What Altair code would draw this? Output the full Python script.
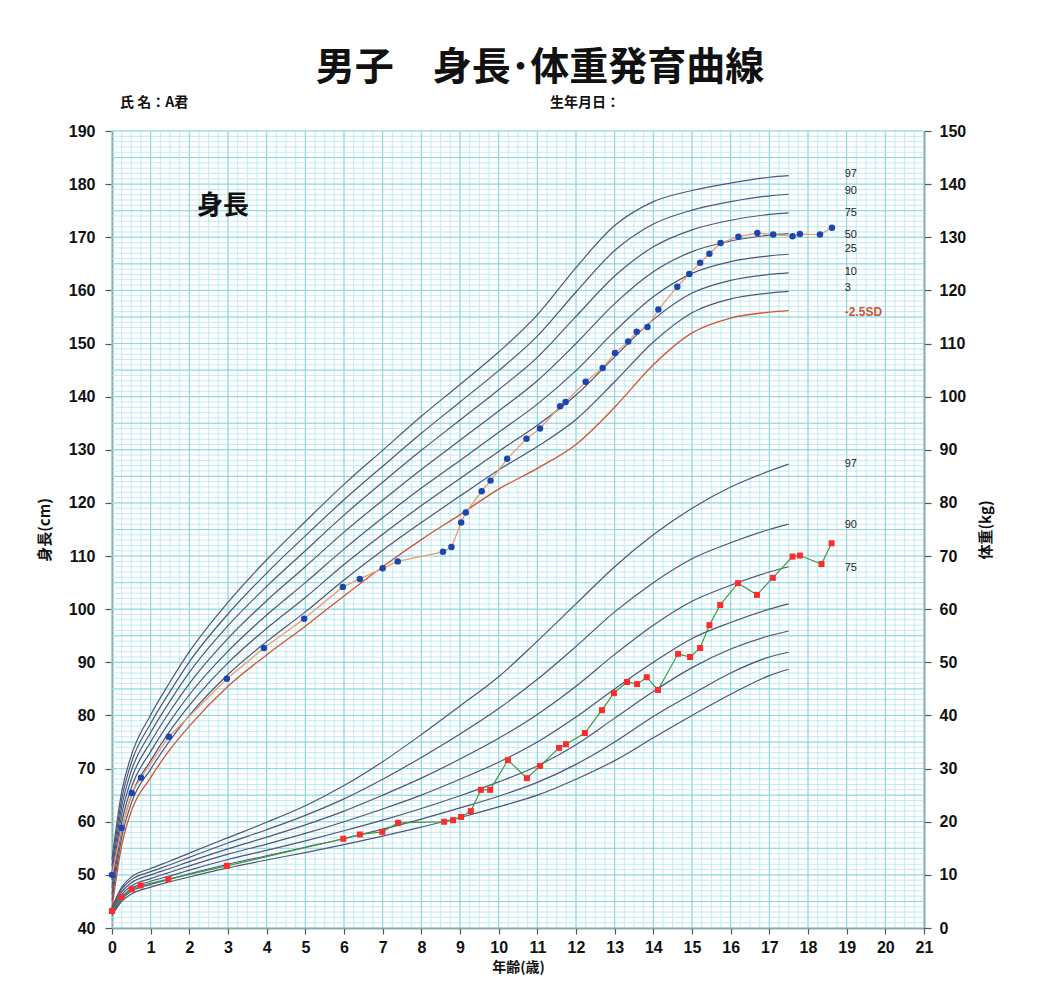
import altair as alt
import pandas as pd
import numpy as np

# ---------------- data ----------------
ages = [0, 0.25, 0.5, 1, 1.5, 2, 3, 4, 5, 6, 7, 8, 9, 10, 11, 12, 13, 14, 15, 16, 17, 17.5]

# height reference curves (cm)
h_sd_m25 = [43.8, 55.5, 62.0, 68.3, 73.6, 78.0, 85.5, 91.4, 96.8, 102.5, 108.0, 113.1, 117.8, 122.6, 126.5, 131.0, 138.0, 146.0, 152.0, 154.8, 155.9, 156.2]
h_p3 = [45.1, 57.0, 63.5, 69.9, 75.3, 80.0, 87.7, 93.9, 99.5, 105.5, 111.1, 116.3, 121.3, 126.2, 130.6, 135.7, 142.8, 150.3, 155.8, 158.4, 159.5, 159.8]
h_p10 = [46.3, 58.4, 64.9, 71.5, 77.1, 81.9, 89.9, 96.4, 102.2, 108.4, 114.1, 119.5, 124.6, 129.7, 134.6, 140.3, 147.5, 154.5, 159.5, 161.9, 163.0, 163.3]
h_p25 = [47.6, 59.8, 66.4, 73.2, 78.9, 83.9, 92.1, 98.9, 105.0, 111.3, 117.2, 122.8, 128.0, 133.3, 138.6, 144.9, 152.3, 158.8, 163.2, 165.4, 166.5, 166.8]
h_p50 = [49.0, 61.3, 68.0, 75.0, 80.8, 86.0, 94.5, 101.6, 108.0, 114.5, 120.5, 126.3, 131.8, 137.3, 143.0, 150.0, 157.5, 163.5, 167.3, 169.3, 170.4, 170.7]
h_p75 = [50.4, 62.8, 69.6, 76.8, 82.7, 88.1, 96.9, 104.3, 111.0, 117.7, 123.9, 129.9, 135.6, 141.3, 147.4, 155.1, 162.7, 168.2, 171.4, 173.2, 174.3, 174.6]
h_p90 = [51.7, 64.2, 71.1, 78.5, 84.5, 90.1, 99.1, 106.8, 113.8, 120.6, 126.9, 133.1, 139.0, 144.9, 151.4, 159.7, 167.5, 172.5, 175.1, 176.7, 177.8, 178.1]
h_p97 = [52.9, 65.6, 72.5, 80.1, 86.3, 92.0, 101.3, 109.3, 116.5, 123.5, 129.9, 136.3, 142.3, 148.4, 155.4, 164.3, 172.2, 176.7, 178.8, 180.2, 181.3, 181.6]

# weight reference curves (kg)
w_p3 = [2.3, 5.0, 6.4, 7.7, 8.7, 9.6, 11.3, 12.8, 14.2, 15.7, 17.3, 19.0, 20.8, 22.8, 25.0, 28.0, 31.5, 35.8, 40.0, 44.0, 47.5, 48.7]
w_p10 = [2.6, 5.4, 6.9, 8.2, 9.2, 10.2, 12.0, 13.6, 15.2, 16.8, 18.6, 20.5, 22.6, 24.8, 27.4, 30.8, 35.0, 39.8, 44.0, 48.0, 51.0, 51.9]
w_p25 = [2.8, 5.8, 7.4, 8.8, 9.8, 10.9, 12.9, 14.6, 16.4, 18.3, 20.3, 22.5, 24.9, 27.5, 30.5, 34.5, 39.5, 44.5, 49.0, 52.5, 55.0, 55.9]
w_p50 = [3.0, 6.3, 7.9, 9.3, 10.5, 11.7, 13.9, 15.8, 17.8, 20.0, 22.4, 25.0, 28.0, 31.2, 35.0, 39.7, 45.0, 50.0, 54.5, 57.5, 60.0, 61.0]
w_p75 = [3.3, 6.8, 8.5, 10.0, 11.2, 12.5, 14.9, 17.1, 19.4, 22.0, 25.0, 28.2, 31.8, 35.7, 40.2, 45.5, 51.5, 57.0, 61.5, 64.5, 67.0, 68.0]
w_p90 = [3.6, 7.3, 9.1, 10.6, 11.9, 13.3, 16.0, 18.5, 21.2, 24.3, 28.0, 32.1, 36.5, 41.3, 46.8, 53.0, 59.5, 65.0, 69.5, 72.5, 75.0, 76.0]
w_p97 = [3.8, 7.7, 9.6, 11.2, 12.6, 14.1, 17.0, 19.9, 23.0, 26.8, 31.3, 36.4, 41.8, 47.3, 54.0, 61.0, 68.0, 74.0, 79.0, 83.0, 86.0, 87.3]

# A君 measurements
a_h_age = [0, 0.25, 0.51, 0.75, 1.47, 2.97, 3.93, 4.97, 5.97, 6.41, 7.0, 7.39, 8.56, 8.78, 9.03, 9.15,
           9.56, 9.79, 10.22, 10.72, 11.07, 11.59, 11.73, 12.25, 12.69, 13.01, 13.35, 13.57, 13.85,
           14.13, 14.62, 14.93, 15.21, 15.45, 15.74, 16.2, 16.69, 17.1, 17.6, 17.79, 18.31, 18.62]
a_h = [50.0, 58.8, 65.4, 68.3, 76.0, 86.9, 92.7, 98.2, 104.2, 105.7, 107.7, 109.0, 110.8, 111.7, 116.3, 118.2,
       122.2, 124.2, 128.3, 132.1, 134.0, 138.2, 139.0, 142.8, 145.4, 148.2, 150.4, 152.2, 153.1,
       156.4, 160.7, 163.1, 165.2, 166.9, 168.9, 170.1, 170.8, 170.5, 170.2, 170.6, 170.5, 171.8]

a_w_age = [0, 0.25, 0.51, 0.74, 1.46, 2.97, 5.98, 6.41, 6.99, 7.4, 8.59, 8.82, 9.03, 9.28, 9.54, 9.78,
           10.24, 10.73, 11.07, 11.56, 11.74, 12.23, 12.67, 12.98, 13.32, 13.58, 13.83, 14.12, 14.64,
           14.95, 15.21, 15.45, 15.73, 16.19, 16.68, 17.09, 17.6, 17.79, 18.35, 18.61]
a_w = [3.2, 5.8, 7.3, 8.0, 9.2, 11.7, 16.8, 17.6, 18.1, 19.8, 20.0, 20.3, 20.9, 22.0, 26.0, 26.0,
       31.6, 28.2, 30.5, 33.9, 34.6, 36.7, 41.0, 44.2, 46.3, 45.9, 47.2, 44.8, 51.6,
       51.0, 52.7, 57.0, 60.8, 64.9, 62.7, 65.9, 69.9, 70.1, 68.5, 72.4]

# curve labels
h_label_text = ["97", "90", "75", "50", "25", "10", "3"]
h_label_val = [182.0, 178.7, 174.5, 170.5, 167.7, 163.4, 160.5]
sd_label_text = ["-2.5SD"]
sd_label_val = [155.9]
w_label_text = ["97", "90", "75"]
w_label_val = [87.4, 75.9, 67.7]
label_age = 18.95

panel_text = ["身長"]
panel_age = [2.2]
panel_h = [175.8]

title_text = "男子　身長･体重発育曲線"
name_text = "氏 名：A君"
birth_text = "生年月日："

# ---------------- helpers ----------------
JP = "Noto Sans CJK JP"
NUM = "Liberation Sans"
W, H = 812, 797


def long(names, arrays):
    rows = []
    for n, arr in zip(names, arrays):
        for a, v in zip(ages, arr):
            rows.append({"age": a, "v": v, "curve": n})
    return pd.DataFrame(rows)


hdf = long(["p3", "p10", "p25", "p50", "p75", "p90", "p97"], [h_p3, h_p10, h_p25, h_p50, h_p75, h_p90, h_p97])
sddf = long(["m25"], [h_sd_m25])
wdf = long(["p3", "p10", "p25", "p50", "p75", "p90", "p97"], [w_p3, w_p10, w_p25, w_p50, w_p75, w_p90, w_p97])
ahdf = pd.DataFrame({"age": a_h_age, "v": a_h})
awdf = pd.DataFrame({"age": a_w_age, "v": a_w})
hlab = pd.DataFrame({"age": [label_age] * len(h_label_text), "v": h_label_val, "t": h_label_text})
sdlab = pd.DataFrame({"age": [label_age], "v": sd_label_val, "t": sd_label_text})
wlab = pd.DataFrame({"age": [label_age] * len(w_label_text), "v": w_label_val, "t": w_label_text})
plab = pd.DataFrame({"age": panel_age, "v": panel_h, "t": panel_text})

gx_minor = pd.DataFrame({"age": [round(v, 2) for v in np.arange(0, 21.001, 0.25)]})
gx_major = pd.DataFrame({"age": list(range(0, 22))})
gy_minor = pd.DataFrame({"v": list(range(40, 191))})
gy_major = pd.DataFrame({"v": list(range(40, 191, 5))})

xs = alt.Scale(domain=[0, 21], nice=False, zero=False)
yhs = alt.Scale(domain=[40, 190], nice=False, zero=False)
yws = alt.Scale(domain=[0, 150], nice=False, zero=False)

x_axis = alt.Axis(values=list(range(0, 22)), format="d", grid=False, domainColor="#555555", domainWidth=1.5,
                  tickColor="#555555", tickSize=6, tickWidth=1.2, labelFont=NUM, labelFontSize=16,
                  labelFontWeight="bold", labelColor="#111111", labelPadding=5, labelFlush=False,
                  title="年齢(歳)", titleFont=JP, titleFontSize=14, titleFontWeight="bold",
                  titleColor="#111111", titlePadding=5)
yh_axis = alt.Axis(orient="left", values=list(range(40, 191, 10)), format="d", grid=False,
                   domainColor="#555555", domainWidth=1.5, tickColor="#555555", tickSize=7, tickWidth=1.2,
                   labelFont=NUM, labelFontSize=16, labelFontWeight="bold", labelColor="#111111",
                   labelPadding=10, labelFlush=False, title="身長(cm)", titleFont=JP, titleFontSize=15,
                   titleFontWeight="bold", titleColor="#111111", titlePadding=16)
yw_axis = alt.Axis(orient="right", values=list(range(0, 151, 10)), format="d", grid=False,
                   domainColor="#555555", domainWidth=1.5, tickColor="#555555", tickSize=7, tickWidth=1.2,
                   labelFont=NUM, labelFontSize=16, labelFontWeight="bold", labelColor="#111111",
                   labelPadding=8, labelFlush=False, title="体重(kg)", titleFont=JP, titleFontSize=15,
                   titleFontWeight="bold", titleColor="#111111", titlePadding=28, titleAngle=270)

X = alt.X("age:Q", scale=xs, axis=x_axis)
Yh = alt.Y("v:Q", scale=yhs, axis=yh_axis)
Yw = alt.Y("v:Q", scale=yws, axis=yw_axis)

# ---------------- layers ----------------
grid_xm = alt.Chart(gx_minor).mark_rule(color="#b3e6ef", strokeWidth=0.8).encode(x=X)
grid_ym = alt.Chart(gy_minor).mark_rule(color="#b3e6ef", strokeWidth=0.8).encode(y=Yh)
grid_yM = alt.Chart(gy_major).mark_rule(color="#86d2de", strokeWidth=0.9).encode(y=Yh)
grid_xM = alt.Chart(gx_major).mark_rule(color="#86d2de", strokeWidth=0.9).encode(x=X)

h_lines = alt.Chart(hdf).mark_line(color="#4f5577", strokeWidth=1.2, interpolate="monotone").encode(
    x=X, y=Yh, detail="curve:N")
sd_line = alt.Chart(sddf).mark_line(color="#d4532f", strokeWidth=1.3, interpolate="monotone").encode(
    x=X, y=Yh)
ah_line = alt.Chart(ahdf).mark_line(color="#f39a6a", strokeWidth=1.3).encode(x=X, y=Yh)
ah_pts = alt.Chart(ahdf).mark_point(shape="circle", filled=True, color="#1d45b0", size=42, opacity=1).encode(
    x=X, y=Yh)
h_labs = alt.Chart(hlab).mark_text(font=NUM, fontSize=11, color="#222222", align="left", baseline="middle").encode(
    x=X, y=Yh, text="t:N")
sd_labs = alt.Chart(sdlab).mark_text(font=NUM, fontSize=12, fontWeight="bold", color="#d4532f", align="left",
                                      baseline="middle").encode(x=X, y=Yh, text="t:N")
p_labs = alt.Chart(plab).mark_text(font=JP, fontSize=26, fontWeight="bold", color="#111111", align="left",
                                    baseline="middle").encode(x=X, y=Yh, text="t:N")

one = pd.DataFrame({"a": [0]})
title_mark = alt.Chart(one).mark_text(text=title_text, font=JP, fontSize=39, fontWeight="bold",
                                      color="#111111", align="center", baseline="middle").encode(
    x=alt.value(428), y=alt.value(-63))
name_mark = alt.Chart(one).mark_text(text=name_text, font=JP, fontSize=14, fontWeight="bold",
                                     color="#111111", align="left", baseline="middle").encode(
    x=alt.value(8), y=alt.value(-28))
birth_mark = alt.Chart(one).mark_text(text=birth_text, font=JP, fontSize=14, fontWeight="bold",
                                      color="#111111", align="left", baseline="middle").encode(
    x=alt.value(438), y=alt.value(-28))

w_lines = alt.Chart(wdf).mark_line(color="#4f5577", strokeWidth=1.2, interpolate="monotone").encode(
    x=X, y=Yw, detail="curve:N")
aw_line = alt.Chart(awdf).mark_line(color="#3d9a3d", strokeWidth=1.2).encode(x=X, y=Yw)
aw_pts = alt.Chart(awdf).mark_point(shape="square", filled=True, color="#ff2b2b", size=36, opacity=1).encode(
    x=X, y=Yw)
w_labs = alt.Chart(wlab).mark_text(font=NUM, fontSize=11, color="#222222", align="left", baseline="middle").encode(
    x=X, y=Yw, text="t:N")

group_h = alt.layer(grid_xm, grid_ym, grid_yM, grid_xM, h_lines, sd_line, ah_line, ah_pts,
                    h_labs, sd_labs, p_labs, title_mark, name_mark, birth_mark)
group_w = alt.layer(w_lines, aw_line, aw_pts, w_labs)

chart = alt.layer(group_h, group_w).resolve_scale(y="independent").properties(
    width=W, height=H,
    padding={"left": 104, "top": 123, "right": 112, "bottom": 54},
    autosize=alt.AutoSizeParams(type="none"),
    background="white",
).configure_view(stroke=None)

chart.save("out.html", embed_options={"renderer": "svg", "actions": False})
